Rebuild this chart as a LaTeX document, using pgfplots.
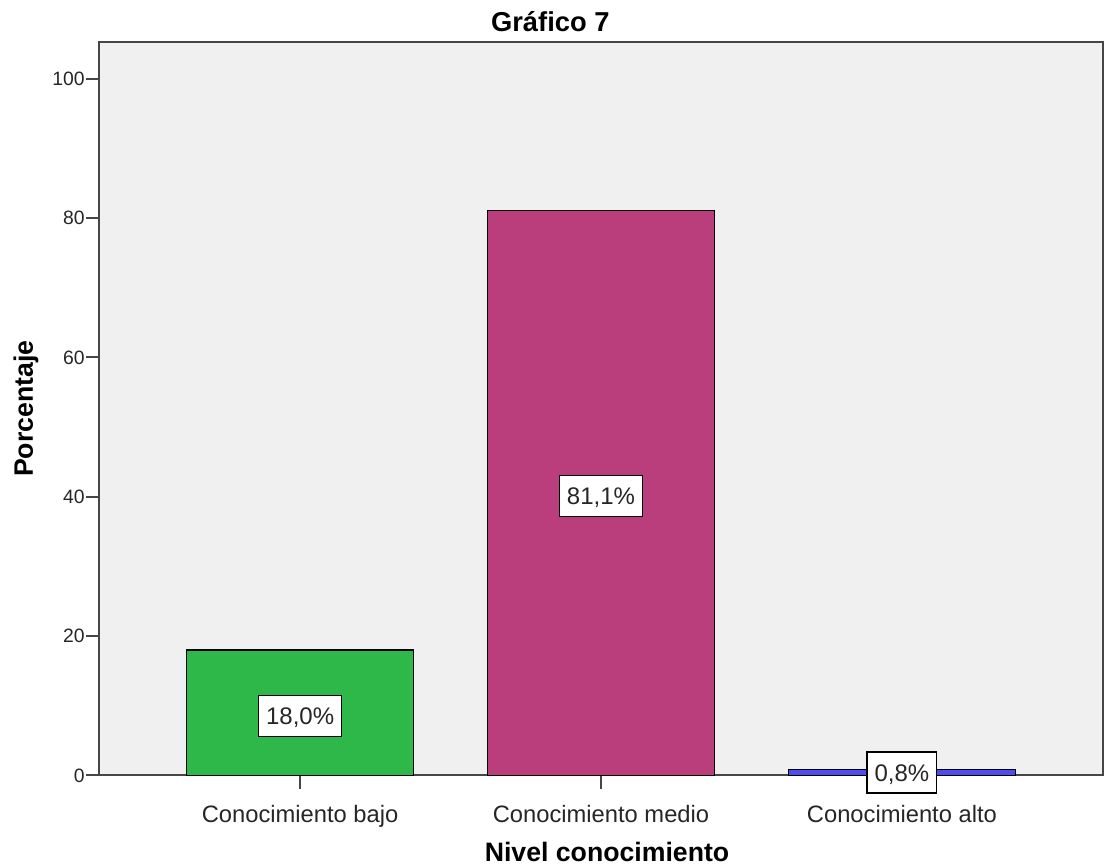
\documentclass[border=0pt]{standalone}
\usepackage{fontspec}
\setmainfont{Liberation Sans}
\usepackage{pgfplots}
\pgfplotsset{compat=1.18}
\definecolor{bgcol}{RGB}{240,240,240}
\definecolor{c1}{RGB}{46,184,74}
\definecolor{c2}{RGB}{186,62,124}
\definecolor{c3}{RGB}{78,78,238}
\definecolor{axcol}{RGB}{70,70,70}
\begin{document}
\begin{tikzpicture}
\begin{axis}[
  scale only axis, width=752.25pt, height=550pt,
  xmin=-0.6667, xmax=2.6667, ymin=0, ymax=105.3,
  axis background/.style={fill=bgcol},
  axis line style={draw=axcol, line width=1.5pt},
  xtick={0,1,2},
  xticklabels={Conocimiento bajo, Conocimiento medio, Conocimiento alto},
  ytick={0,20,40,60,80,100},
  tick pos=left, tick align=outside, major tick length=10pt,
  xtick style={draw=axcol, line width=1pt},
  ytick style={draw=axcol, line width=1.5pt},
  xticklabel style={font=\fontsize{17.8}{20}\selectfont, anchor=base, yshift=-25pt, text=black!85},
  yticklabel style={font=\fontsize{14.5}{17}\selectfont, inner sep=1pt, text=black!85},
  /pgf/number format/assume math mode=true,
  clip=false,
]
\addplot[ybar, bar width=170.25pt, bar shift=0pt, fill=c1, draw=black, line width=1pt] coordinates {(0,18.0)};
\addplot[ybar, bar width=170.25pt, bar shift=0pt, fill=c2, draw=black, line width=1pt] coordinates {(1,81.1)};
\addplot[ybar, bar width=170.25pt, bar shift=0pt, fill=c3, draw=black, line width=1pt] coordinates {(2,0.8)};
\addplot[draw=none, mark=none, nodes near coords, point meta=explicit symbolic,
  nodes near coords style={anchor=center, draw=black, line width=1pt, fill=white,
    font=\fontsize{18}{21}\selectfont, text height=12.9pt, text depth=0pt,
    inner xsep=5.6pt, inner ysep=8.9pt, text=black!85}]
  coordinates {(0,8.5) [18,0\%] (1,40.1) [81,1\%] (2,0.4) [0,8\%]};
\end{axis}
\node[anchor=base, font=\bfseries\fontsize{20.5}{24}\selectfont] at ([xshift=-38pt, yshift=7.5pt]current axis.north) {Gráfico 7};
\node[rotate=90, anchor=base, font=\bfseries\fontsize{20}{24}\selectfont] at ([xshift=-50pt]current axis.west) {Porcentaje};
\node[anchor=base, font=\bfseries\fontsize{20}{24}\selectfont] at ([xshift=4.5pt, yshift=-64.9pt]current axis.south) {Nivel conocimiento};
\pgfresetboundingbox
\path ([xshift=-74.6pt,yshift=-67.9pt]current axis.south west) rectangle ([xshift=1.1pt,yshift=31.5pt]current axis.north east);
\end{tikzpicture}
\end{document}
